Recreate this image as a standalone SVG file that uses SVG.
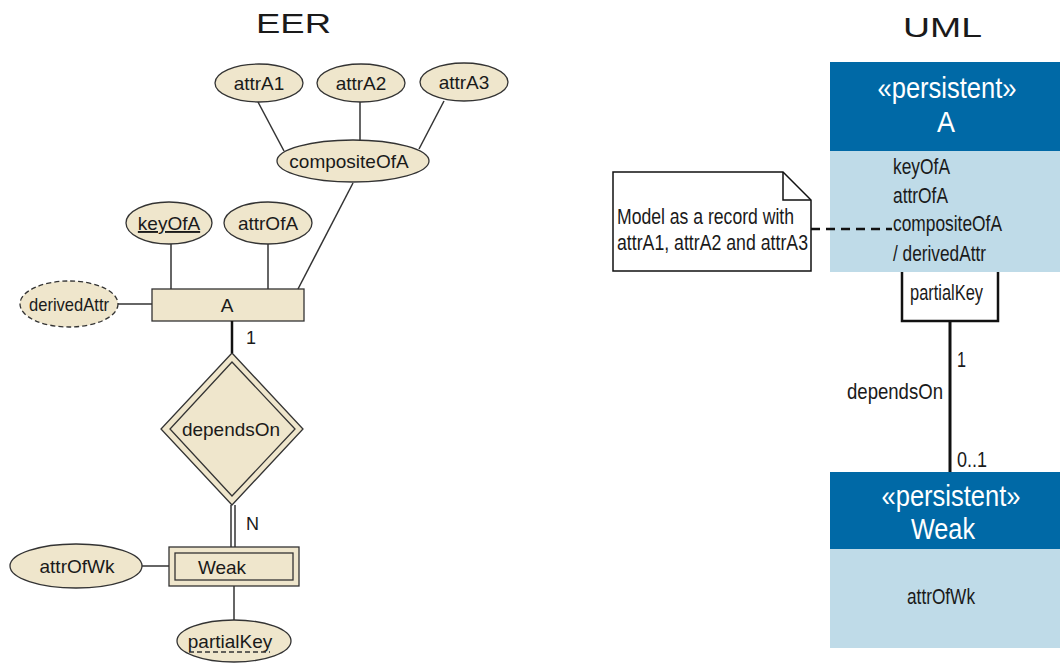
<svg xmlns="http://www.w3.org/2000/svg" width="1060" height="663" viewBox="0 0 1060 663">
<style>
  .t { font-family: "Liberation Sans", Arial, sans-serif; fill: #1a1a1a; }
  .er { font-size: 19px; text-anchor: middle; }
  .ent { fill: #EFE6CC; stroke: #333; stroke-width: 1.3; }
  .ln { stroke: #333; stroke-width: 1.5; fill: none; }
  .uml { font-family: "Liberation Sans", Arial, sans-serif; font-size: 22px; fill: #1a1a1a; }
  .hdr { fill: #0069A6; }
  .body { fill: #BFDBE8; }
  .w { fill: #ffffff; font-size: 30px; text-anchor: middle; }
</style>
<rect width="1060" height="663" fill="#ffffff"/>

<text class="t" x="256" y="33" font-size="28" textLength="75" lengthAdjust="spacingAndGlyphs">EER</text>
<text class="t" x="903" y="37" font-size="28" textLength="79" lengthAdjust="spacingAndGlyphs">UML</text>

<g id="attrA1"><ellipse class="ent" cx="259" cy="83" rx="44" ry="19"/><text class="t er" x="259" y="90">attrA1</text></g>
<g id="attrA2"><ellipse class="ent" cx="361" cy="83" rx="44" ry="19"/><text class="t er" x="361" y="90">attrA2</text></g>
<g id="attrA3"><ellipse class="ent" cx="464" cy="82" rx="44" ry="19"/><text class="t er" x="464" y="89">attrA3</text></g>
<g id="compositeOfA"><ellipse class="ent" cx="353" cy="161" rx="76" ry="21"/><text class="t er" x="349" y="168">compositeOfA</text></g>
<g id="keyOfA"><ellipse class="ent" cx="169" cy="223" rx="43" ry="21"/><text class="t er" x="169" y="230" text-decoration="underline">keyOfA</text></g>
<g id="attrOfA"><ellipse class="ent" cx="268" cy="223" rx="44" ry="21"/><text class="t er" x="268" y="230">attrOfA</text></g>
<g id="derivedAttr"><ellipse class="ent" cx="69" cy="304" rx="49" ry="23" stroke-dasharray="5,3"/><text class="t" x="29" y="311" font-size="19" textLength="80" lengthAdjust="spacingAndGlyphs">derivedAttr</text></g>
<g id="A"><rect class="ent" x="152" y="289" width="152" height="32"/><text class="t er" x="227" y="312">A</text></g>
<g id="dependsOn">
  <polygon class="ent" points="232,353 303,429 232,505 161,429"/>
  <polygon class="ent" points="232,362 295,429 232,496 170,429"/>
  <text class="t er" x="231" y="436">dependsOn</text>
</g>
<g id="Weak">
  <rect class="ent" x="169" y="547" width="130" height="39"/>
  <rect class="ent" x="175" y="553" width="118" height="27"/>
  <text class="t er" x="222" y="574">Weak</text>
</g>
<g id="attrOfWk"><ellipse class="ent" cx="76" cy="566" rx="66" ry="22"/><text class="t er" x="77" y="573">attrOfWk</text></g>
<g id="partialKey">
  <ellipse class="ent" cx="234" cy="641" rx="57" ry="21"/>
  <text class="t er" x="230" y="648">partialKey</text>
  <line x1="189" y1="652" x2="270" y2="652" stroke="#333" stroke-width="1.3" stroke-dasharray="5,3"/>
</g>

<g id="umlA">
  <rect class="hdr" x="830" y="62" width="230" height="89"/>
  <rect class="body" x="830" y="151" width="230" height="121"/>
  <text class="uml w" x="947" y="98" textLength="139" lengthAdjust="spacingAndGlyphs">«persistent»</text>
  <text class="uml w" x="946" y="132" textLength="18" lengthAdjust="spacingAndGlyphs">A</text>
  <text class="uml" x="893" y="174" textLength="57" lengthAdjust="spacingAndGlyphs">keyOfA</text>
  <text class="uml" x="893" y="203" textLength="55" lengthAdjust="spacingAndGlyphs">attrOfA</text>
  <text class="uml" x="893" y="231" textLength="109" lengthAdjust="spacingAndGlyphs">compositeOfA</text>
  <text class="uml" x="893" y="261" textLength="93" lengthAdjust="spacingAndGlyphs">/ derivedAttr</text>
</g>
<g id="partialKeyBox">
  <path d="M902,272 V321 H998 V272" fill="#ffffff" stroke="#111" stroke-width="2.5"/>
  <text class="uml" x="910" y="300" textLength="73" lengthAdjust="spacingAndGlyphs">partialKey</text>
</g>
<g id="note">
  <path d="M613,172 H783 L811,200 V271 H613 Z" fill="#ffffff" stroke="#111" stroke-width="1.5"/>
  <path d="M783,172 V200 H811" fill="none" stroke="#111" stroke-width="1.5"/>
  <text class="uml" x="617" y="224" textLength="177" lengthAdjust="spacingAndGlyphs">Model as a record with</text>
  <text class="uml" x="617" y="250" textLength="191" lengthAdjust="spacingAndGlyphs">attrA1, attrA2 and attrA3</text>
</g>
<g id="umlWeak">
  <rect class="hdr" x="830" y="472" width="230" height="77"/>
  <rect class="body" x="830" y="549" width="230" height="99"/>
  <text class="uml w" x="951" y="506" textLength="139" lengthAdjust="spacingAndGlyphs">«persistent»</text>
  <text class="uml w" x="943" y="539" textLength="64" lengthAdjust="spacingAndGlyphs">Weak</text>
  <text class="uml" x="907" y="604" textLength="68" lengthAdjust="spacingAndGlyphs">attrOfWk</text>
</g>

<g id="connectors">
  <line class="ln" x1="258" y1="102" x2="284" y2="151"/>
  <line class="ln" x1="360" y1="102" x2="360" y2="140"/>
  <line class="ln" x1="444" y1="101" x2="419" y2="149"/>
  <line class="ln" x1="353" y1="183" x2="298" y2="289"/>
  <line class="ln" x1="171" y1="244" x2="171" y2="289"/>
  <line class="ln" x1="268" y1="244" x2="268" y2="289"/>
  <line class="ln" x1="118" y1="304" x2="152" y2="304"/>
  <line x1="232" y1="321" x2="232" y2="353" stroke="#111" stroke-width="2.5"/>
  <line class="ln" x1="231" y1="505" x2="231" y2="547"/>
  <line class="ln" x1="235" y1="505" x2="235" y2="547"/>
  <line class="ln" x1="142" y1="566" x2="169" y2="566"/>
  <line class="ln" x1="234" y1="586" x2="234" y2="620"/>
  <text class="t" x="246" y="344" font-size="18">1</text>
  <text class="t" x="246" y="530" font-size="18">N</text>

  <line x1="811" y1="229" x2="892" y2="229" stroke="#111" stroke-width="2.5" stroke-dasharray="9,6"/>
  <line x1="950" y1="321" x2="950" y2="472" stroke="#111" stroke-width="3"/>
  <text class="uml" x="957" y="367" textLength="9" lengthAdjust="spacingAndGlyphs">1</text>
  <text class="uml" x="847" y="399" textLength="96" lengthAdjust="spacingAndGlyphs">dependsOn</text>
  <text class="uml" x="957" y="467" textLength="30" lengthAdjust="spacingAndGlyphs">0..1</text>
</g>
</svg>
